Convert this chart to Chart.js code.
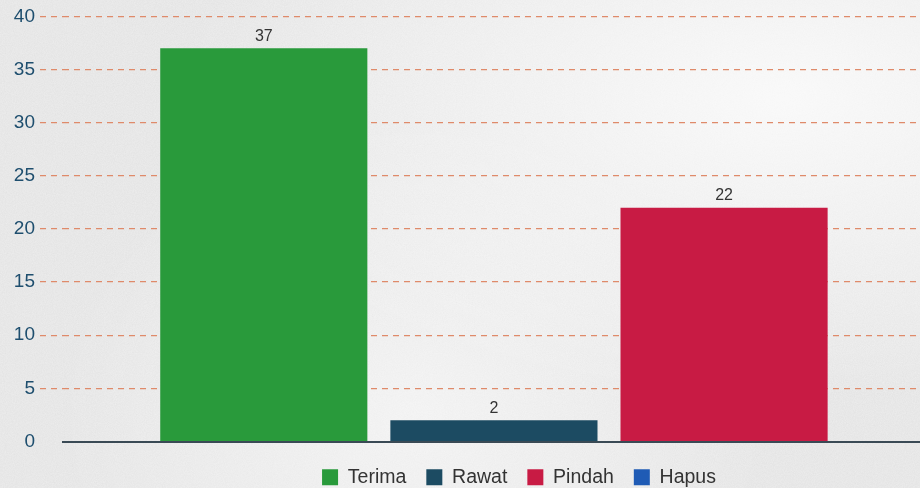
<!DOCTYPE html>
<html>
<head>
<meta charset="utf-8">
<script src="https://cdn.jsdelivr.net/npm/chart.js@4/dist/chart.umd.min.js"></script>
<style>
    html, body {
        margin: 0;
        padding: 0;
        width: 920px;
        height: 488px;
        overflow: hidden;
    }
    body {
        background-color: #ededed;
        background-image:
            radial-gradient(ellipse at 85% 20%, rgba(255, 255, 255, 0.75), rgba(255, 255, 255, 0) 55%),
            radial-gradient(ellipse at 45% 85%, rgba(255, 255, 255, 0.5), rgba(255, 255, 255, 0) 50%),
            url("data:image/svg+xml,%3Csvg xmlns='http://www.w3.org/2000/svg' width='300' height='300'%3E%3Cfilter id='n'%3E%3CfeTurbulence type='fractalNoise' baseFrequency='0.9' numOctaves='3' stitchTiles='stitch'/%3E%3CfeColorMatrix values='0 0 0 0 0.5 0 0 0 0 0.5 0 0 0 0 0.5 0 0 0 0.22 0'/%3E%3C/filter%3E%3Crect width='300' height='300' filter='url(%23n)'/%3E%3C/svg%3E");
    }
    .chart-box {
        position: absolute;
        left: -117px;
        top: 0;
        width: 1272px;
        height: 497px;
    }
</style>
</head>
<body>
<div class="chart-box">
    <canvas id="statusChart"></canvas>
</div>
<script>
    const seriesNames = ["Terima", "Rawat", "Pindah", "Hapus"];
    const seriesValues = [37, 2, 22, 0];
    const seriesColors = ["#299a3b", "#1c4b62", "#c81b44", "#1f5bb5"];
    const yTicks = [0, 5, 10, 15, 20, 25, 30, 35, 40];

    const gridColor = "#df8a6a";
    const tickColor = "#1e4e6e";

    // value printed above each bar
    const barValueLabels = {
        id: "barValueLabels",
        afterDatasetsDraw(chart) {
            const ctx = chart.ctx;
            ctx.save();
            ctx.font = "16px 'Liberation Sans', Arial, sans-serif";
            ctx.fillStyle = "#333333";
            ctx.textAlign = "center";
            ctx.textBaseline = "bottom";
            chart.data.datasets.forEach((dataset, i) => {
                chart.getDatasetMeta(i).data.forEach((bar, j) => {
                    ctx.fillText(String(dataset.data[j]), bar.x, bar.y - 4);
                });
            });
            ctx.restore();
        }
    };

    new Chart(document.getElementById("statusChart"), {
        type: "bar",
        data: {
            labels: [""],
            datasets: seriesNames.map((name, i) => ({
                label: name,
                data: [seriesValues[i]],
                backgroundColor: seriesColors[i],
                borderWidth: 0,
                barPercentage: 0.9,
                categoryPercentage: 0.843
            }))
        },
        options: {
            responsive: true,
            maintainAspectRatio: false,
            animation: false,
            layout: {
                padding: { top: 16, left: 0, right: 0, bottom: 0 }
            },
            plugins: {
                legend: {
                    position: "bottom",
                    labels: {
                        boxWidth: 16,
                        boxHeight: 16,
                        padding: 20,
                        color: "#333333",
                        font: { family: "'Liberation Sans', Arial, sans-serif", size: 19.5 }
                    }
                },
                tooltip: { enabled: false }
            },
            scales: {
                x: {
                    grid: { display: false },
                    ticks: { display: false },
                    border: { display: true, color: "#3a4a55", width: 2 },
                    afterFit(scale) {
                        scale.height = 6;
                    }
                },
                y: {
                    min: yTicks[0],
                    max: yTicks[yTicks.length - 1],
                    afterBuildTicks(scale) {
                        scale.ticks = yTicks.map((value) => ({ value }));
                    },
                    afterFit(scale) {
                        scale.width = 180;
                    },
                    border: { display: false, dash: [6, 5] },
                    grid: {
                        color: (c) => (c.tick && c.tick.value === 0 ? "rgba(0,0,0,0)" : gridColor),
                        tickColor: (c) => (c.tick && c.tick.value === 0 ? "rgba(0,0,0,0)" : gridColor),
                        lineWidth: 1.2,
                        tickLength: 23,
                        tickBorderDash: [6, 5]
                    },
                    ticks: {
                        padding: 5,
                        color: tickColor,
                        font: { family: "'Liberation Sans', Arial, sans-serif", size: 19 }
                    }
                }
            }
        },
        plugins: [barValueLabels]
    });
</script>
</body>
</html>
